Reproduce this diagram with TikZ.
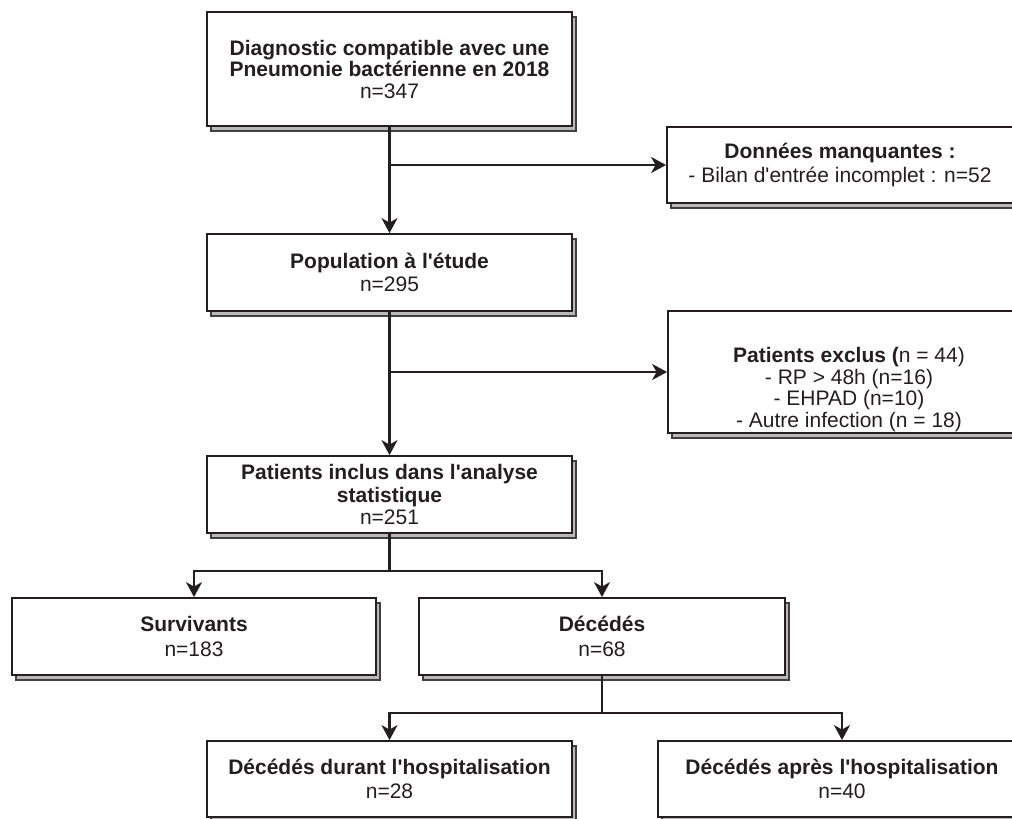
\documentclass[tikz,border=0pt]{standalone}
\usepackage{fontspec}
\setmainfont{Liberation Sans}
\usetikzlibrary{shadows,arrows.meta}
\definecolor{txt}{RGB}{35,31,32}
\definecolor{shade}{RGB}{185,185,185}
\newcommand\aq{\textquotesingle}
\tikzset{
  box/.style={draw=txt, line width=1.8pt, fill=white, text=txt, align=center,
    inner sep=0pt, font=\fontsize{21}{21.5}\selectfont,
    drop shadow={shadow xshift=4pt, shadow yshift=-5pt, fill=shade,
      draw=black!75, line width=1.4pt, opacity=1}},
  conn/.style={draw=txt, line width=2.3pt},
  arr/.style={conn, -{Stealth[length=15pt, width=16pt, inset=4.5pt]}}
}
\begin{document}
\begin{tikzpicture}[x=1pt, y=-1pt]
\clip (0,0) rectangle (1012,819);
\fill[white] (0,0) rectangle (1012,819);

\node[box, minimum width=365pt, minimum height=114pt] (diag) at (389.5,69)
  {\textbf{Diagnostic compatible avec une}\\ \textbf{Pneumonie bactérienne en 2018}\\ n=347};
\node[box, minimum width=346pt, minimum height=76pt] (manq) at (840,165)
  {\textbf{Données manquantes :}\\[3pt] - Bilan d\aq entrée incomplet : n=52};
\node[box, minimum width=365pt, minimum height=77pt] (pop) at (389.5,272.5)
  {\textbf{Population à l\aq étude}\\[2pt] n=295};
\node[box, minimum width=362pt, minimum height=122pt] (excl) at (849,372)
  {\rule{0pt}{50pt}\textbf{Patients exclus (}n = 44)\\ - RP > 48h (n=16)\\ - EHPAD (n=10)\\ - Autre infection (n = 18)};
\node[box, minimum width=365pt, minimum height=77pt] (incl) at (389.5,494.5)
  {\textbf{Patients inclus dans l\aq analyse}\\[1pt] \textbf{statistique}\\[1pt] n=251};
\node[box, minimum width=364pt, minimum height=77pt] (surv) at (194,636.5)
  {\textbf{Survivants}\\[3pt] n=183};
\node[box, minimum width=366pt, minimum height=77pt] (dec) at (602,636.5)
  {\textbf{Décédés}\\[3pt] n=68};
\node[box, minimum width=365pt, minimum height=76pt] (dur) at (389.5,779)
  {\textbf{Décédés durant l\aq hospitalisation}\\[2pt] n=28};
\node[box, minimum width=368pt, minimum height=76pt] (apr) at (842,779)
  {\textbf{Décédés après l\aq hospitalisation}\\[2pt] n=40};

\coordinate (b1) at (389.5,165);
\coordinate (b2) at (389.5,372);
\coordinate (b3) at (389.5,571);
\coordinate (b4) at (602,713);

\draw[arr] (diag.south) -- (pop.north);
\draw[arr] (b1) -- (manq.west);
\draw[arr] (pop.south) -- (incl.north);
\draw[arr] (b2) -- (excl.west);
\draw[conn] (incl.south) -- (b3);
\draw[arr] (b3) -| (surv.north);
\draw[arr] (b3) -| (dec.north);
\draw[conn] (dec.south) -- (b4);
\draw[arr] (b4) -| (dur.north);
\draw[arr] (b4) -| (apr.north);
\end{tikzpicture}
\end{document}
